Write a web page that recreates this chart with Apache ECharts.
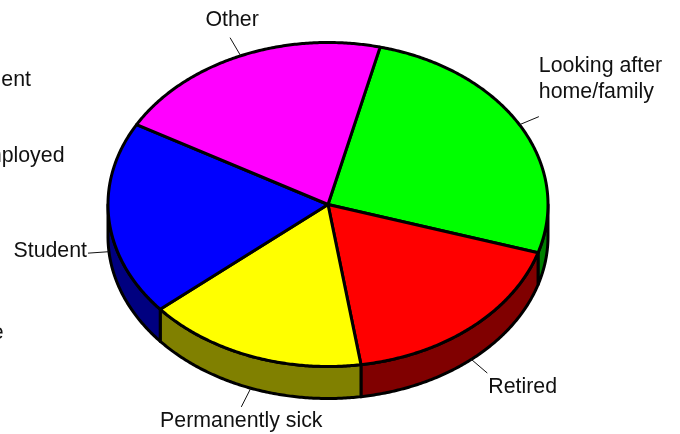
<!DOCTYPE html>
<html>
<head>
<meta charset="utf-8">
<style>
  html, body { margin: 0; padding: 0; background: #fff; }
  #grafico { width: 680px; height: 434px; }
</style>
<script src="https://cdn.jsdelivr.net/npm/echarts@6/dist/echarts.min.js"></script>
</head>
<body>
<div id="grafico"></div>
<script>
var categorias = ['Looking after\nhome/family', 'Retired', 'Permanently sick', 'Student', 'Other', 'Independent', 'Self-employed', 'Part-time'];
var valores = [26, 17.8, 16.2, 19.4, 20.6, 0, 0, 0];
var coresTopo = ['#00ff00', '#ff0000', '#ffff00', '#0000ff', '#ff00ff', '#00ffff', '#ff8000', '#808080'];
var coresLado = ['#008000', '#800000', '#808000', '#000080', '#800080', '#008080', '#804000', '#404040'];

// pie geometry, angles are clockwise from the top
var cx = 328, cy = 204.5, rx = 220, ry = 162, altura = 32;
var inicio = 13.7;
var total = valores.reduce(function (a, b) { return a + b; }, 0);

// label anchors relative to the end of the leader line; the empty slices have no leader
var rotulos = [
  { dx: 0, dy: -37.5, align: 'left' },
  { dx: 1, dy: 14, align: 'left' },
  { dx: 0, dy: 14.5, align: 'center' },
  { dx: -1, dy: -2.5, align: 'right' },
  { dx: 2, dy: -17.5, align: 'center' },
  { x: 31, y: 80.5, align: 'right' },
  { x: 64.5, y: 156.5, align: 'right' },
  { x: 3.5, y: 333.5, align: 'right' }
];

function angulos(i) {
  var a = inicio;
  for (var k = 0; k < i; k++) a += valores[k] / total * 360;
  return [a, a + valores[i] / total * 360];
}

function ponto(a, dy) {
  var r = a * Math.PI / 180;
  return [cx + rx * Math.sin(r), cy - ry * Math.cos(r) + (dy || 0)];
}

function arco(a0, a1, dy) {
  var pts = [];
  var n = Math.max(2, Math.ceil((a1 - a0) * 2));
  for (var k = 0; k <= n; k++) pts.push(ponto(a0 + (a1 - a0) * k / n, dy));
  return pts;
}

function desenhaLado(params, api) {
  var i = params.dataIndex;
  var a = angulos(i);
  var a0 = Math.max(a[0], 90), a1 = Math.min(a[1], 270);
  if (api.value(1) === 0 || a1 <= a0) return null;
  return {
    type: 'polygon',
    shape: { points: arco(a0, a1, 0).concat(arco(a0, a1, altura).reverse()) },
    style: { fill: coresLado[i], stroke: '#000', lineWidth: 3, lineJoin: 'round' }
  };
}

function desenhaTopo(params, api) {
  var i = params.dataIndex;
  var a = angulos(i);
  if (api.value(1) === 0) return null;
  return {
    type: 'polygon',
    shape: { points: [[cx, cy]].concat(arco(a[0], a[1], 0)) },
    style: { fill: coresTopo[i], stroke: '#000', lineWidth: 3, lineJoin: 'round' }
  };
}

function desenhaRotulo(params, api) {
  var i = params.dataIndex;
  var a = angulos(i);
  var r = rotulos[i];
  var fonte = '21.33px "Liberation Sans", Arial, sans-serif';
  if (api.value(1) === 0) {
    return {
      type: 'text',
      style: { text: categorias[i], x: r.x, y: r.y, align: r.align, verticalAlign: 'middle', font: fonte, fill: '#111' }
    };
  }
  var meio = (a[0] + a[1]) / 2;
  var frente = Math.cos(meio * Math.PI / 180) < 0;
  var p = ponto(meio, frente ? altura : 0);
  var c = [p[0] - cx, p[1] - (frente ? altura : 0) - cy];
  var len = Math.sqrt(c[0] * c[0] + c[1] * c[1]);
  var fim = [p[0] + c[0] / len * 21, p[1] + c[1] / len * 21];
  return {
    type: 'group',
    children: [
      {
        type: 'line',
        shape: { x1: p[0], y1: p[1], x2: fim[0], y2: fim[1] },
        style: { stroke: '#111', lineWidth: 1 }
      },
      {
        type: 'text',
        style: {
          text: categorias[i], x: fim[0] + r.dx, y: fim[1] + r.dy, align: r.align, verticalAlign: 'middle',
          font: fonte, fill: '#111', lineHeight: 26
        }
      }
    ]
  };
}

var dados = valores.map(function (v, i) { return [i, v]; });
var myChart = echarts.init(document.getElementById('grafico'), null, { renderer: 'canvas' });
var option = {
  animation: false,
  backgroundColor: '#fff',
  series: [
    { type: 'custom', coordinateSystem: 'none', silent: true, z: 1, data: dados, renderItem: desenhaLado },
    { type: 'custom', coordinateSystem: 'none', silent: true, z: 2, data: dados, renderItem: desenhaTopo },
    { type: 'custom', coordinateSystem: 'none', silent: true, z: 3, data: dados, renderItem: desenhaRotulo }
  ]
};
option && myChart.setOption(option);
</script>
</body>
</html>
